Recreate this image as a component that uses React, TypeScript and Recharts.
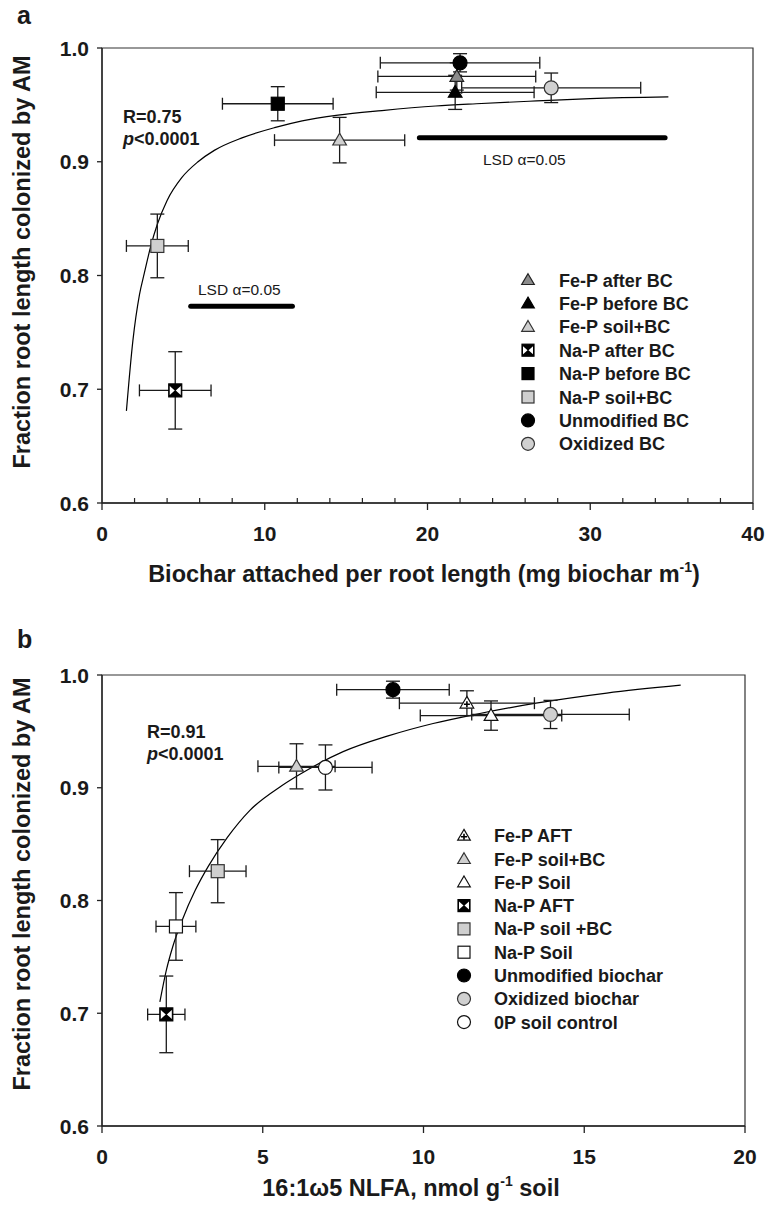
import React from "react";
import { ComposedChart, Scatter, Line, XAxis, YAxis, ErrorBar, ReferenceLine, ReferenceArea } from "recharts";

const FONT = '"Liberation Sans", Arial, Helvetica, sans-serif';

// panel a: biochar attached per root length
const aNames = ["Fe-P after BC", "Fe-P before BC", "Fe-P soil+BC", "Na-P after BC", "Na-P before BC", "Na-P soil+BC", "Unmodified BC", "Oxidized BC"];
const aMarkers = ["triDark", "triBlack", "triLight", "bowtie", "sqBlack", "sqLight", "circBlack", "circLight"];
const aX = [21.8, 21.7, 14.6, 4.5, 10.8, 3.4, 22.0, 27.6];
const aXErr = [4.85, 4.85, 4.0, 2.2, 3.4, 1.9, 4.9, 5.5];
const aY = [0.975, 0.961, 0.919, 0.699, 0.951, 0.826, 0.987, 0.965];
const aYErr = [0.012, 0.015, 0.02, 0.034, 0.015, 0.028, 0.008, 0.013];
const aCurveX = [1.5, 1.9, 2.3, 2.6, 3.0, 3.4, 4.0, 4.9, 5.9, 6.9, 8.6, 10.6, 12.3, 14.5, 17.2, 20.5, 23.0, 26.7, 30.0, 34.8];
const aCurveY = [0.681, 0.743, 0.783, 0.802, 0.826, 0.845, 0.866, 0.886, 0.9, 0.91, 0.921, 0.93, 0.936, 0.941, 0.945, 0.949, 0.951, 0.9535, 0.9555, 0.957];
const aLsdX = [[5.45, 11.7], [19.5, 34.6]];
const aLsdY = [0.773, 0.921];
const aXTicks = [0, 2, 4, 6, 8, 10, 12, 14, 16, 18, 20, 22, 24, 26, 28, 30, 32, 34, 36, 38, 40];

// panel b: 16:1w5 NLFA
const bNames = ["Fe-P AFT", "Fe-P soil+BC", "Fe-P Soil", "Na-P AFT", "Na-P soil +BC", "Na-P Soil", "Unmodified biochar", "Oxidized biochar", "0P soil control"];
const bMarkers = ["triPlus", "triLight", "triOpen", "bowtie", "sqLight", "sqOpen", "circBlack", "circLight", "circOpen"];
const bX = [11.35, 6.05, 12.1, 2.0, 3.6, 2.3, 9.05, 13.95, 6.95];
const bXErr = [2.1, 1.2, 2.2, 0.58, 0.88, 0.62, 1.75, 2.45, 1.45];
const bY = [0.975, 0.919, 0.964, 0.699, 0.826, 0.777, 0.987, 0.965, 0.918];
const bYErr = [0.011, 0.02, 0.013, 0.034, 0.028, 0.03, 0.0075, 0.0125, 0.02];
const bCurveX = [1.8, 2.0, 2.2, 2.5, 2.9, 3.3, 3.9, 4.6, 5.6, 6.4, 7.5, 8.9, 10.3, 11.6, 13.5, 15.7, 18.0];
const bCurveY = [0.71, 0.738, 0.759, 0.783, 0.809, 0.83, 0.856, 0.88, 0.902, 0.916, 0.932, 0.946, 0.957, 0.965, 0.975, 0.984, 0.991];
const bXTicks = [0, 5, 10, 15, 20];

const yTicks = [0.6, 0.7, 0.8, 0.9, 1.0];

const aData = aNames.map((name, i) => ({ name, kind: aMarkers[i], x: aX[i], y: aY[i], ex: aXErr[i], ey: aYErr[i] }));
const aCurve = aCurveX.map((x, i) => ({ x, y: aCurveY[i] }));
const bData = bNames.map((name, i) => ({ name, kind: bMarkers[i], x: bX[i], y: bY[i], ex: bXErr[i], ey: bYErr[i] }));
const bCurve = bCurveX.map((x, i) => ({ x, y: bCurveY[i] }));

function Marker({ kind, cx, cy, s = 13 }: { kind: string; cx: number; cy: number; s?: number }) {
  const h = s / 2;
  const sw = 1.2;
  const tri = `${cx},${cy - h * 1.05} ${cx + h * 1.05},${cy + h * 0.75} ${cx - h * 1.05},${cy + h * 0.75}`;
  switch (kind) {
    case "triDark":
      return <polygon points={tri} fill="#8c8c8c" stroke="#222" strokeWidth={sw} />;
    case "triBlack":
      return <polygon points={tri} fill="#000" stroke="#000" strokeWidth={sw} />;
    case "triLight":
      return <polygon points={tri} fill="#cfcfcf" stroke="#333" strokeWidth={sw} />;
    case "triOpen":
      return <polygon points={tri} fill="#fff" stroke="#111" strokeWidth={sw} />;
    case "triPlus":
      return (
        <g>
          <polygon points={tri} fill="#fff" stroke="#111" strokeWidth={sw} />
          <path d={`M${cx - 3} ${cy + 1}H${cx + 3}M${cx} ${cy - 2}V${cy + 4}`} stroke="#000" strokeWidth={1.6} />
        </g>
      );
    case "bowtie":
      return (
        <g>
          <rect x={cx - h} y={cy - h} width={s} height={s} fill="#000" stroke="#000" strokeWidth={sw} />
          <polygon points={`${cx - h + 1},${cy - h + 2} ${cx - 0.5},${cy} ${cx - h + 1},${cy + h - 2}`} fill="#fff" />
          <polygon points={`${cx + h - 1},${cy - h + 2} ${cx + 0.5},${cy} ${cx + h - 1},${cy + h - 2}`} fill="#fff" />
        </g>
      );
    case "sqBlack":
      return <rect x={cx - h} y={cy - h} width={s} height={s} fill="#000" stroke="#000" strokeWidth={sw} />;
    case "sqLight":
      return <rect x={cx - h} y={cy - h} width={s} height={s} fill="#cfcfcf" stroke="#333" strokeWidth={sw} />;
    case "sqOpen":
      return <rect x={cx - h} y={cy - h} width={s} height={s} fill="#fff" stroke="#111" strokeWidth={sw} />;
    case "circBlack":
      return <circle cx={cx} cy={cy} r={h + 0.5} fill="#000" stroke="#000" strokeWidth={sw} />;
    case "circLight":
      return <circle cx={cx} cy={cy} r={h + 0.5} fill="#d0d0d0" stroke="#333" strokeWidth={sw} />;
    default:
      return <circle cx={cx} cy={cy} r={h + 0.5} fill="#fff" stroke="#111" strokeWidth={sw} />;
  }
}

function xTick(props: any, majorStep: number) {
  const { x, y, payload } = props;
  const v = payload.value;
  const major = Math.abs(v / majorStep - Math.round(v / majorStep)) < 1e-6;
  if (!major) {
    return <line x1={x} x2={x} y1={y} y2={y - 5} stroke="#222" strokeWidth={1.2} />;
  }
  return (
    <g>
      <line x1={x} x2={x} y1={y} y2={y + 7} stroke="#222" strokeWidth={1.3} />
      <text x={x} y={y + 38} textAnchor="middle" fontFamily={FONT} fontWeight="bold" fontSize={21} fill="#1a1a1a">
        {v}
      </text>
    </g>
  );
}

function yTick(props: any) {
  const { x, y, payload } = props;
  return (
    <g>
      <line x1={x - 5} x2={x} y1={y} y2={y} stroke="#222" strokeWidth={1.3} />
      <text x={x - 13} y={y + 7.5} textAnchor="end" fontFamily={FONT} fontWeight="bold" fontSize={21} fill="#1a1a1a">
        {Number(payload.value).toFixed(1)}
      </text>
    </g>
  );
}

type Pt = { name: string; kind: string; x: number; y: number; ex: number; ey: number };

function Panel({ data, curve, xMax, xTicks, majorStep, margin, height, lsdX = [], lsdY = [] }: {
  data: Pt[]; curve: { x: number; y: number }[]; xMax: number; xTicks: number[]; majorStep: number;
  margin: { top: number; right: number; bottom: number; left: number }; height: number; lsdX?: number[][]; lsdY?: number[];
}) {
  return (
    <ComposedChart width={772} height={height} margin={margin}>
      <XAxis
        type="number"
        dataKey="x"
        domain={[0, xMax]}
        ticks={xTicks}
        interval={0}
        allowDataOverflow
        height={1}
        tickSize={0}
        tickMargin={0}
        tickLine={false}
        tick={(p: any) => xTick(p, majorStep)}
        axisLine={{ stroke: "#222", strokeWidth: 1.3 }}
      />
      <YAxis
        type="number"
        dataKey="y"
        domain={[0.6, 1.0]}
        ticks={yTicks}
        interval={0}
        allowDataOverflow
        width={1}
        tickSize={0}
        tickMargin={0}
        tickLine={false}
        tick={yTick}
        axisLine={{ stroke: "#222", strokeWidth: 1.3 }}
      />
      <ReferenceArea x1={0} x2={xMax} y1={0.6} y2={1.0} fill="none" fillOpacity={0} stroke="#333" strokeWidth={1.2} />
      {lsdX.map((seg, i) => (
        <ReferenceLine
          key={i}
          segment={[{ x: seg[0], y: lsdY[i] }, { x: seg[1], y: lsdY[i] }]}
          stroke="#000"
          strokeWidth={5}
          strokeLinecap="round"
        />
      ))}
      <Line data={curve} dataKey="y" type="monotone" stroke="#000" strokeWidth={1.2} dot={false} activeDot={false} isAnimationActive={false} />
      <Scatter
        data={data}
        dataKey="y"
        isAnimationActive={false}
        shape={(p: any) => <Marker kind={p.payload.kind} cx={p.cx} cy={p.cy} />}
      >
        <ErrorBar dataKey="ex" direction="x" width={6} stroke="#1a1a1a" strokeWidth={1.3} isAnimationActive={false} />
        <ErrorBar dataKey="ey" direction="y" width={7} stroke="#1a1a1a" strokeWidth={1.3} isAnimationActive={false} />
      </Scatter>
    </ComposedChart>
  );
}

function LegendBlock({ names, markers, mx, tx, y0, step }: { names: string[]; markers: string[]; mx: number; tx: number; y0: number; step: number }) {
  return (
    <g>
      {names.map((n, i) => (
        <g key={n}>
          <Marker kind={markers[i]} cx={mx} cy={y0 + i * step} s={12} />
          <text x={tx} y={y0 + i * step + 6.5} fontFamily={FONT} fontWeight="bold" fontSize={18} fill="#1a1a1a">
            {n}
          </text>
        </g>
      ))}
    </g>
  );
}

export default function App() {
  const bold = { fontFamily: FONT, fontWeight: "bold" as const, fill: "#1a1a1a" };
  return (
    <div style={{ position: "absolute", left: 0, top: 0, width: 772, height: 1210, background: "#fff" }}>
      <div style={{ position: "absolute", left: 0, top: 0 }}>
        <Panel data={aData} curve={aCurve} xMax={40} xTicks={aXTicks} majorStep={10} height={600}
          margin={{ top: 48, right: 19, bottom: 96, left: 101 }} lsdX={aLsdX} lsdY={aLsdY} />
      </div>
      <div style={{ position: "absolute", left: 0, top: 600 }}>
        <Panel data={bData} curve={bCurve} xMax={20} xTicks={bXTicks} majorStep={5} height={610}
          margin={{ top: 75, right: 27, bottom: 83, left: 101 }} />
      </div>
      <svg width={772} height={1210} style={{ position: "absolute", left: 0, top: 0, pointerEvents: "none" }}>
        <text x={17} y={24} fontSize={25} {...bold}>a</text>
        <text x={17} y={648} fontSize={25} {...bold}>b</text>

        <text x={30} y={262} fontSize={23.5} textAnchor="middle" transform="rotate(-90 30 262)" {...bold}>
          Fraction root length colonized by AM
        </text>
        <text x={30} y={884} fontSize={23.5} textAnchor="middle" transform="rotate(-90 30 884)" {...bold}>
          Fraction root length colonized by AM
        </text>

        <text x={424} y={582} fontSize={23.5} textAnchor="middle" {...bold}>
          Biochar attached per root length (mg biochar m<tspan dy={-10} fontSize={14}>-1</tspan><tspan dy={10}>)</tspan>
        </text>
        <text x={411} y={1196} fontSize={23.5} textAnchor="middle" {...bold}>
          16:1ω5 NLFA, nmol g<tspan dy={-10} fontSize={14}>-1</tspan><tspan dy={10}> soil</tspan>
        </text>

        <text x={123} y={123} fontSize={18} {...bold}>R=0.75</text>
        <text x={123} y={145} fontSize={18} {...bold}><tspan fontStyle="italic">p</tspan>&lt;0.0001</text>
        <text x={147} y={738} fontSize={18} {...bold}>R=0.91</text>
        <text x={147} y={760} fontSize={18} {...bold}><tspan fontStyle="italic">p</tspan>&lt;0.0001</text>

        <text x={198} y={295} fontSize={15.5} fontFamily={FONT} fill="#1a1a1a">LSD α=0.05</text>
        <text x={483} y={165} fontSize={15.5} fontFamily={FONT} fill="#1a1a1a">LSD α=0.05</text>

        <LegendBlock names={aNames} markers={aMarkers} mx={528} tx={559} y0={280} step={23.4} />
        <LegendBlock names={bNames} markers={bMarkers} mx={464} tx={494} y0={835.7} step={23.3} />
      </svg>
    </div>
  );
}
